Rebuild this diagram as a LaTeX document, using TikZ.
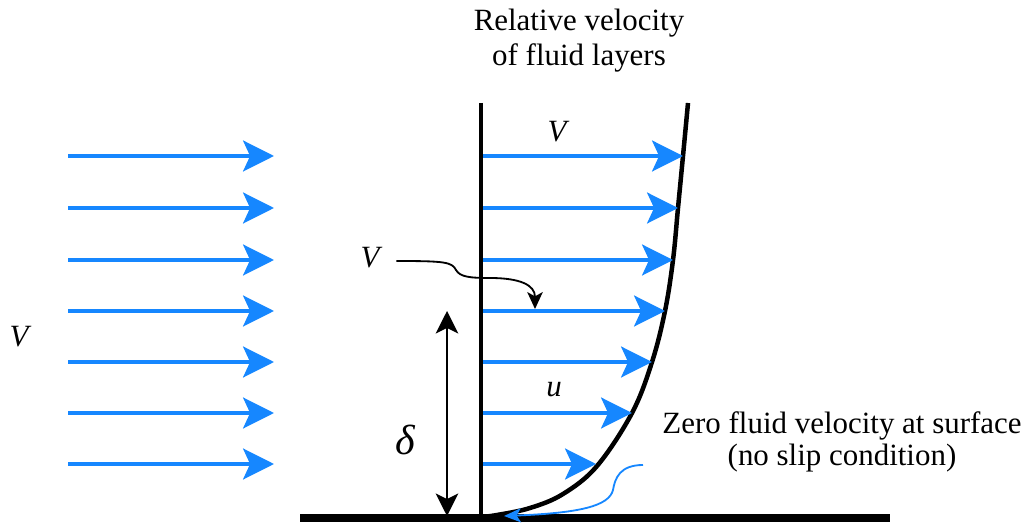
\documentclass[tikz,border=0pt]{standalone}
\usepackage{fontspec}
\setmainfont{Liberation Serif}
\usepackage{xcolor}
\definecolor{flowblue}{RGB}{22,135,255}
\usetikzlibrary{arrows.meta}

\tikzset{
  flow/.style={draw=flowblue, line width=2.5pt, -{Stealth[length=22pt,width=22pt,inset=5pt]}},
  layer/.style={draw=flowblue, line width=2.5pt, -{Stealth[length=22pt,width=22pt,inset=5pt]}},
  lbl/.style={font=\fontsize{22}{25}\selectfont},
  sym/.style={font=\fontsize{22}{27}\selectfont\itshape},
}

\begin{document}
\begin{tikzpicture}[x=0.025cm, y=-0.025cm]
  \useasboundingbox (0,0) rectangle (1024,523);

  % free stream
  \foreach \yy in {156,208,260,311,362,413,464}
    \draw[flow] (68,\yy) -- (274,\yy);
  \node[sym] (vfree) at (19,337) {V};

  % plate and wall
  \draw[line width=2.8pt] (481,103) -- (481,518);
  \draw[line width=5pt] (300,518) -- (890,518);

  % velocity profile
  \draw[line width=3.2pt] plot[smooth, tension=0.6] coordinates
    {(481,517) (497,515) (530,508) (563,494) (597,466) (632,413) (652,362) (665,311) (673,260) (678,208) (683,156) (688,103)};

  % layer arrows
  \foreach \yy/\xx in {156/683,208/678,260/673,311/665,362/652,413/632,464/596}
    \draw[layer] (483,\yy) -- (\xx,\yy);

  \node[sym] (vtop) at (557,132) {V};
  \node[sym] (ulayer) at (554,390) {u};

  % title
  \node[lbl, align=center] (title) at (579,41) {Relative velocity\\ of fluid layers};

  % pointer from V
  \node[sym] (vmid) at (370,258) {V};
  \coordinate (vend) at (535,309);
  \draw[line width=1.3pt, -{Stealth[length=12pt,width=11pt,inset=3pt]}]
    (vmid.east) ++(12,3) .. controls (445,261) and (452,262) .. (456,270)
    .. controls (460,277) and (470,278) .. (490,278)
    .. controls (520,278) and (535,285) .. (vend);

  % boundary layer thickness
  \coordinate (dtop) at (447,311);
  \coordinate (dbot) at (447,516);
  \draw[line width=1.4pt, {Stealth[length=16pt,width=16pt,inset=4pt]}-{Stealth[length=16pt,width=16pt,inset=4pt]}] (dtop) -- (dbot);
  \node[font=\fontsize{30}{34}\selectfont\itshape] (delta) at (405,440) {δ};

  % no slip note
  \node[lbl, font=\fontsize{22}{22.5}\selectfont, align=center] (noslip) at (842,442) {Zero fluid velocity at surface\\(no slip condition)};
  \coordinate (slipend) at (504,516);
  \draw[draw=flowblue, line width=1.3pt, -{Stealth[length=12pt,width=10pt,inset=3pt]}]
    (643,465) .. controls (620,465) and (615,478) .. (613,490)
    .. controls (609,506) and (580,513) .. (slipend);
\end{tikzpicture}
\end{document}
